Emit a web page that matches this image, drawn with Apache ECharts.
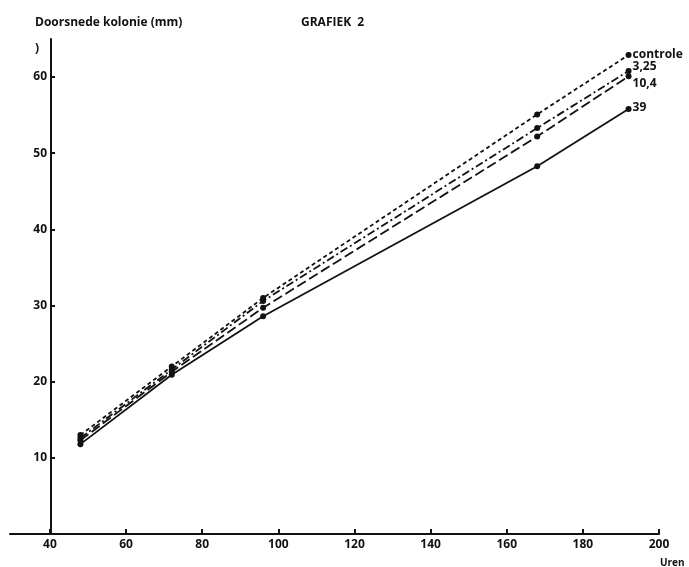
<!DOCTYPE html>
<html>
<head>
    <meta charset="utf-8">
    <title>Grafiek 2</title>
    <script src="https://cdn.jsdelivr.net/npm/echarts@6/dist/echarts.min.js"></script>
    <style>
        html, body { margin: 0; padding: 0; background: #fff; }
        #chart { width: 689px; height: 567px; }
    </style>
</head>
<body>
    <div id="chart"></div>
    <script>
        // uren (x) en doorsnede kolonie in mm (y)
        var hours = [48, 72, 96, 168, 192];
        var controle = [13.0, 22.0, 31.0, 55.1, 62.9];
        var c325 = [12.6, 21.6, 30.6, 53.3, 60.8];
        var c104 = [12.3, 21.3, 29.7, 52.2, 60.1];
        var c39 = [11.8, 20.9, 28.6, 48.3, 55.8];
        var names = ['controle', '3,25', '10,4', '39'];
        var xTicks = [40, 60, 80, 100, 120, 140, 160, 180, 200];
        var yTicks = [10, 20, 30, 40, 50, 60];

        function pairs(vals) {
            return hours.map(function (h, i) { return [h, vals[i]]; });
        }

        var font = "'Open Sans', 'DejaVu Sans', sans-serif";
        var ink = '#111';

        function line(name, vals, dash, dy) {
            return {
                name: name,
                type: 'line',
                data: pairs(vals),
                symbol: 'circle',
                symbolSize: 6,
                itemStyle: { color: ink },
                lineStyle: { color: ink, width: 1.8, type: dash },
                endLabel: {
                    show: true,
                    formatter: name,
                    distance: 4,
                    offset: [0, dy],
                    color: ink,
                    fontFamily: font,
                    fontWeight: 'bold',
                    fontSize: 12
                },
                animation: false
            };
        }

        var chart = echarts.init(document.getElementById('chart'));
        chart.setOption({
            backgroundColor: '#fff',
            title: [
                { text: 'Doorsnede kolonie (mm)', left: 30, top: 12,
                  textStyle: { fontFamily: font, fontSize: 12, fontWeight: 'bold', color: ink } },
                { text: 'GRAFIEK  2', left: 296, top: 12,
                  textStyle: { fontFamily: font, fontSize: 12, fontWeight: 'bold', color: ink } },
                { text: 'Uren', left: 655, top: 553,
                  textStyle: { fontFamily: font, fontSize: 10, fontWeight: 'bold', color: ink } },
                { text: ')', left: 30, top: 38,
                  textStyle: { fontFamily: font, fontSize: 12, fontWeight: 'bold', color: ink } }
            ],
            grid: { left: 10, right: 30, top: 39, bottom: 33 },
            xAxis: {
                type: 'value',
                min: 29.5,
                max: 200,
                splitLine: { show: false },
                axisLine: { lineStyle: { color: ink, width: 2 } },
                axisTick: { inside: true, length: 5, customValues: xTicks, lineStyle: { color: ink, width: 2 } },
                axisLabel: { customValues: xTicks, color: ink, fontFamily: font, fontWeight: 'bold', fontSize: 12, margin: 5 }
            },
            yAxis: {
                type: 'value',
                min: 0,
                max: 65,
                offset: -41,
                splitLine: { show: false },
                axisLine: { onZero: false, lineStyle: { color: ink, width: 2 } },
                axisTick: { inside: true, length: 4, customValues: yTicks, lineStyle: { color: ink, width: 2 } },
                axisLabel: { customValues: yTicks, color: ink, fontFamily: font, fontWeight: 'bold', fontSize: 12, margin: 4 }
            },
            series: [
                line(names[0], controle, [4, 3], 0),
                line(names[1], c325, [8, 3, 2, 3], -4),
                line(names[2], c104, [10, 4], 7),
                line(names[3], c39, 'solid', -1)
            ]
        });
    </script>
</body>
</html>
